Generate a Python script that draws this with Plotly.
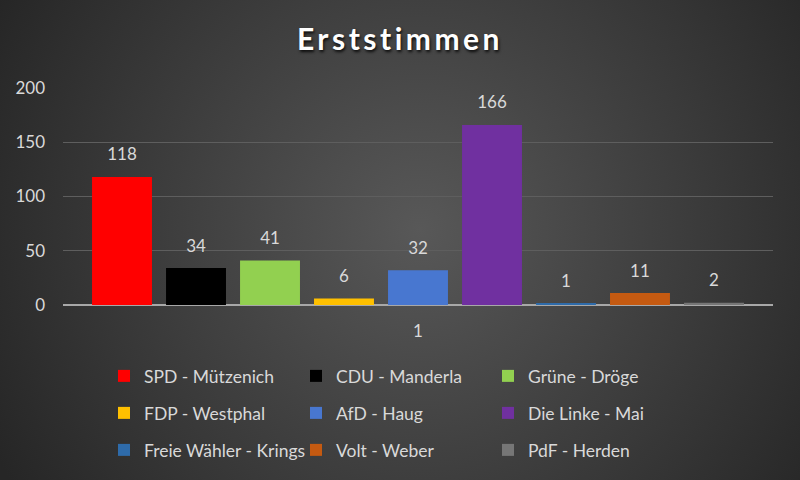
import base64
import plotly.graph_objects as go

# ---- data ----
categories = ["1"]
parties = ["SPD - Mützenich", "CDU - Manderla", "Grüne - Dröge",
           "FDP - Westphal", "AfD - Haug", "Die Linke - Mai",
           "Freie Wähler - Krings", "Volt - Weber", "PdF - Herden"]
votes = [118, 34, 41, 6, 32, 166, 1, 11, 2]
y_ticks = [0, 50, 100, 150, 200]

# ---- styles ----
colors = ["#FF0000", "#000000", "#92D050", "#FFC000", "#4877D0",
          "#7030A0", "#2E6BAA", "#C55A11", "#767676"]
legend_rows = ["legend", "legend", "legend", "legend2", "legend2", "legend2",
               "legend3", "legend3", "legend3"]
FONT = "Lato, 'Open Sans', sans-serif"
TXT = "#D9D9D9"

W, H = 800, 480
ML, MR, MT, MB = 63, 27, 88, 175
PW, PH = W - ML - MR, H - MT - MB

svg = (f'<svg xmlns="http://www.w3.org/2000/svg" width="{W}" height="{H}">'
       '<defs><radialGradient id="g" gradientUnits="userSpaceOnUse" cx="420" cy="230" r="480">'
       '<stop offset="0%" stop-color="#585858"/><stop offset="100%" stop-color="#262626"/>'
       '</radialGradient></defs>'
       f'<rect width="{W}" height="{H}" fill="url(#g)"/></svg>')
bg_uri = "data:image/svg+xml;base64," + base64.b64encode(svg.encode()).decode()

fig = go.Figure()
for i, (name, v) in enumerate(zip(parties, votes)):
    fig.add_trace(go.Bar(
        x=categories, y=[v], name=name, marker_color=colors[i],
        marker_line_width=0, offsetgroup=str(i), legend=legend_rows[i],
        hoverinfo="skip"))
for i, (name, v) in enumerate(zip(parties, votes)):
    fig.add_trace(go.Scatter(
        x=categories, y=[v], mode="markers+text", text=[str(v)],
        textposition="top center", offsetgroup=str(i), showlegend=False,
        marker=dict(size=18, opacity=0), cliponaxis=False,
        textfont=dict(family=FONT, size=17, color=TXT), hoverinfo="skip"))

def row_legend(ypx):
    return dict(orientation="h", x=(104 - ML) / PW, xanchor="left",
                y=(MT + PH - ypx) / PH, yanchor="middle",
                entrywidth=147, entrywidthmode="pixels",
                bgcolor="rgba(0,0,0,0)", font=dict(family=FONT, size=17.5, color=TXT),
                traceorder="normal")

fig.update_layout(
    width=W, height=H,
    margin=dict(l=ML, r=MR, t=MT, b=MB, autoexpand=False),
    paper_bgcolor="#383838", plot_bgcolor="rgba(0,0,0,0)",
    barmode="group", bargap=0.062, bargroupgap=0.19, scattermode="group",
    title=dict(text='<span style="letter-spacing:3.5px">Erststimmen</span>',
               x=0.5, xanchor="center", xref="container",
               y=1 - 39 / H, yanchor="middle", yref="container",
               font=dict(family=FONT, size=30, color="#FFFFFF", weight="bold",
                         shadow="1px 2px 3px rgba(0,0,0,0.85)")),
    xaxis=dict(type="category", showgrid=False, showline=False, ticks="",
               tickfont=dict(family=FONT, size=17, color=TXT), ticklabelstandoff=14),
    yaxis=dict(range=[0, 200], tickvals=y_ticks, showgrid=True,
               gridcolor="#5E5E5E", gridwidth=1, zeroline=True,
               zerolinecolor="#A8A8A8", zerolinewidth=2, ticks="",
               tickfont=dict(family=FONT, size=17, color=TXT), ticklabelstandoff=17),
    legend=row_legend(376), legend2=row_legend(413), legend3=row_legend(450),
    images=[dict(source=bg_uri, xref="paper", yref="paper",
                 x=-ML / PW, y=1 + MT / PH, sizex=W / PW, sizey=H / PH,
                 xanchor="left", yanchor="top", sizing="stretch", layer="below")],
)

fig.write_html("out.html")
